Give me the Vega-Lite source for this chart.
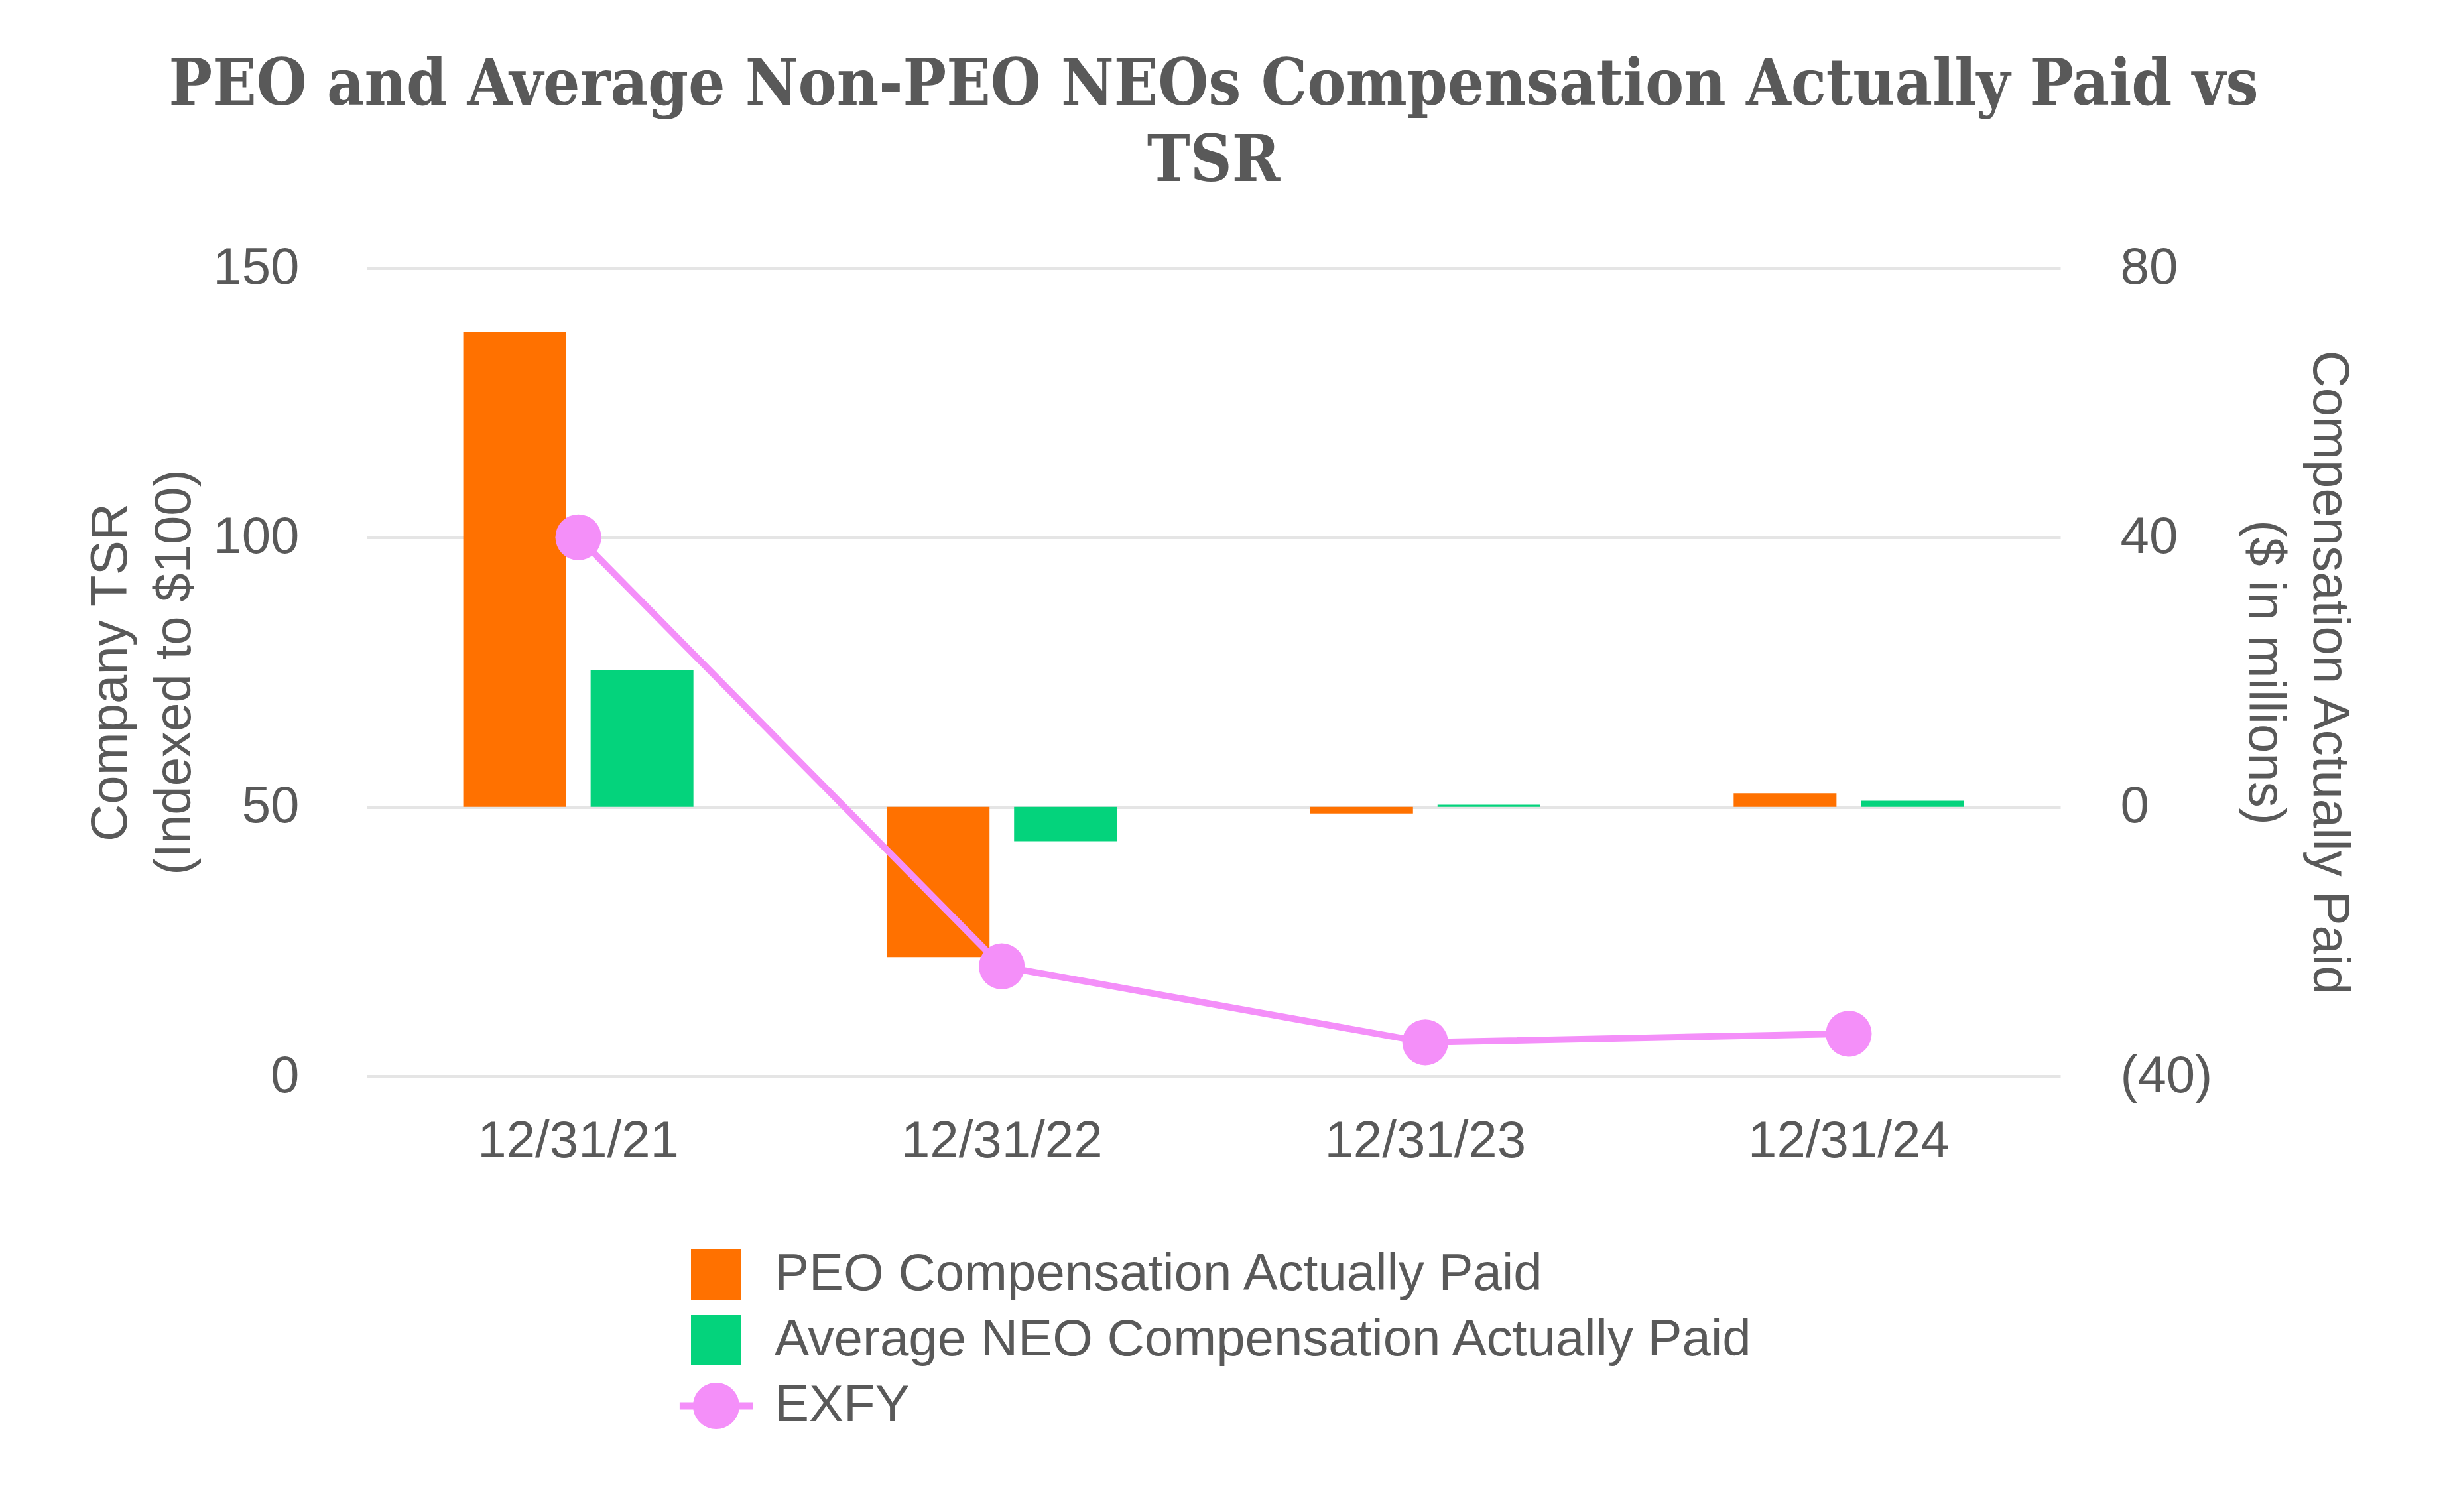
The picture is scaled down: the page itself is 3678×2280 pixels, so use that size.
{
  "$schema": "https://vega.github.io/schema/vega-lite/v6.json",
  "width": 2554,
  "height": 1219,
  "autosize": {"type": "none"},
  "padding": {"left": 553, "top": 404, "right": 571, "bottom": 657},
  "background": "white",
  "title": {
    "text": ["PEO and Average Non-PEO NEOs Compensation Actually Paid vs", "TSR"],
    "font": "DejaVu Serif Condensed, DejaVu Serif",
    "fontWeight": "bold",
    "fontSize": 97,
    "color": "#595959",
    "lineHeight": 115,
    "anchor": "middle",
    "offset": 72
  },
  "config": {
    "view": {"stroke": null},
    "axis": {
      "labelFont": "Liberation Sans",
      "labelFontSize": 78,
      "labelColor": "#595959",
      "labelLimit": 1000,
      "titleFont": "Liberation Sans",
      "titleFontSize": 78,
      "titleFontWeight": "normal",
      "titleColor": "#595959",
      "domain": false,
      "ticks": false,
      "tickSize": 0,
      "gridColor": "#E5E5E5",
      "gridWidth": 5
    },
    "legend": {
      "orient": "none",
      "legendX": 488,
      "legendY": 1479,
      "padding": 0,
      "direction": "vertical",
      "labelFont": "Liberation Sans",
      "labelFontSize": 78,
      "labelColor": "#595959",
      "labelLimit": 2000,
      "labelOffset": 49,
      "rowPadding": 21,
      "symbolSize": 5776,
      "symbolOpacity": 1,
      "symbolStrokeWidth": 0
    }
  },
  "datasets": {
    "comp": [
      {"period": "12/31/21", "series": "PEO Compensation Actually Paid", "value": 70.5},
      {"period": "12/31/21", "series": "Average NEO Compensation Actually Paid", "value": 20.3},
      {"period": "12/31/22", "series": "PEO Compensation Actually Paid", "value": -22.3},
      {"period": "12/31/22", "series": "Average NEO Compensation Actually Paid", "value": -5.1},
      {"period": "12/31/23", "series": "PEO Compensation Actually Paid", "value": -1.0},
      {"period": "12/31/23", "series": "Average NEO Compensation Actually Paid", "value": 0.3},
      {"period": "12/31/24", "series": "PEO Compensation Actually Paid", "value": 2.0},
      {"period": "12/31/24", "series": "Average NEO Compensation Actually Paid", "value": 0.9}
    ],
    "tsr": [
      {"period": "12/31/21", "series": "EXFY", "tsr": 100},
      {"period": "12/31/22", "series": "EXFY", "tsr": 20.4},
      {"period": "12/31/23", "series": "EXFY", "tsr": 6.3},
      {"period": "12/31/24", "series": "EXFY", "tsr": 7.9}
    ]
  },
  "layer": [
    {
      "data": {"name": "comp"},
      "mark": {"type": "bar"},
      "encoding": {
        "x": {
          "field": "period",
          "type": "nominal",
          "sort": ["12/31/21", "12/31/22", "12/31/23", "12/31/24"],
          "scale": {"paddingInner": 0.4565, "paddingOuter": 0.228},
          "axis": {"title": null, "labelAngle": 0, "labelBaseline": "alphabetic", "labelPadding": 121, "grid": false}
        },
        "xOffset": {
          "field": "series",
          "type": "nominal",
          "sort": ["PEO Compensation Actually Paid", "Average NEO Compensation Actually Paid"],
          "scale": {"paddingInner": 0.1927, "paddingOuter": 0}
        },
        "y": {
          "field": "value",
          "type": "quantitative",
          "scale": {"domain": [-40, 80], "nice": false},
          "axis": {
            "orient": "right",
            "values": [-40, 0, 40, 80],
            "grid": false,
            "labelPadding": 90,
            "labelExpr": "datum.value < 0 ? '(' + abs(datum.value) + ')' : datum.label",
            "title": ["Compensation Actually Paid", "($ in millions)"],
            "titleAngle": 90,
            "titleAlign": "center",
            "titleBaseline": "alphabetic",
            "titleLineHeight": 97,
            "titleX": 381,
            "titleY": 609.5
          }
        },
        "color": {
          "field": "series",
          "type": "nominal",
          "scale": {
            "domain": ["PEO Compensation Actually Paid", "Average NEO Compensation Actually Paid", "EXFY"],
            "range": ["#FF7100", "#04D37C", "#F48FF9"]
          },
          "legend": {"title": null}
        }
      }
    },
    {
      "data": {"name": "tsr"},
      "encoding": {
        "x": {
          "field": "period",
          "type": "nominal",
          "sort": ["12/31/21", "12/31/22", "12/31/23", "12/31/24"],
          "scale": {"paddingInner": 0.4565, "paddingOuter": 0.228},
          "axis": {"title": null, "labelAngle": 0, "labelBaseline": "alphabetic", "labelPadding": 121, "grid": false}
        },
        "y": {
          "field": "tsr",
          "type": "quantitative",
          "scale": {"domain": [0, 150], "nice": false},
          "axis": {
            "orient": "left",
            "values": [0, 50, 100, 150],
            "grid": true,
            "labelPadding": 102,
            "title": ["Company TSR", "(Indexed to $100)"],
            "titleAngle": -90,
            "titleAlign": "center",
            "titleBaseline": "alphabetic",
            "titleLineHeight": 96,
            "titleX": -363,
            "titleY": 609.5
          }
        }
      },
      "layer": [
        {
          "mark": {"type": "line", "color": "#F48FF9", "strokeWidth": 10}
        },
        {
          "mark": {"type": "point", "filled": true, "color": "#F48FF9", "size": 4800, "opacity": 1, "shape": "circle"}
        },
        {
          "mark": {"type": "point", "filled": true, "size": 5776, "opacity": 0},
          "encoding": {
            "color": {
              "field": "series",
              "type": "nominal",
              "scale": {
                "domain": ["PEO Compensation Actually Paid", "Average NEO Compensation Actually Paid", "EXFY"],
                "range": ["#FF7100", "#04D37C", "#F48FF9"]
              },
              "legend": {"title": null}
            },
            "shape": {
              "field": "series",
              "type": "nominal",
              "scale": {
                "domain": ["PEO Compensation Actually Paid", "Average NEO Compensation Actually Paid", "EXFY"],
                "range": ["square", "square", "M-1.45,-0.145L-0.9085,-0.145A0.92,0.92 0 0,1 0.9085,-0.145L1.45,-0.145L1.45,0.145L0.9085,0.145A0.92,0.92 0 0,1 -0.9085,0.145L-1.45,0.145Z"]
              },
              "legend": {"title": null}
            }
          }
        }
      ]
    }
  ],
  "resolve": {"scale": {"y": "independent"}}
}
